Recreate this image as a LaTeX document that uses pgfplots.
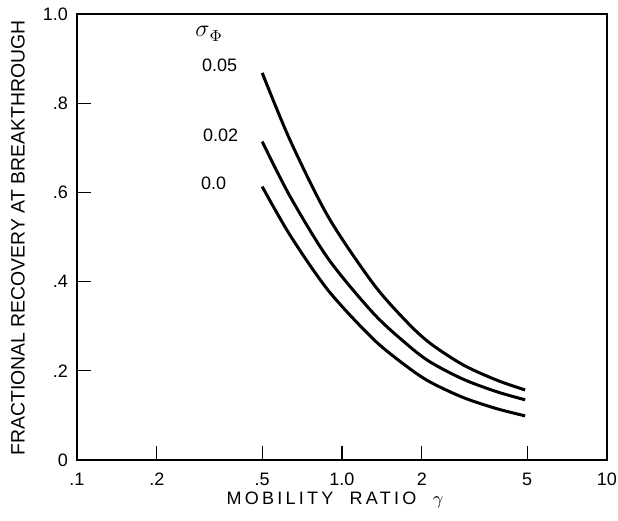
\documentclass[border=0pt]{standalone}
\usepackage{fontspec}
\setmainfont{Liberation Sans}
\usepackage{pgfplots}
\pgfplotsset{compat=1.18}
\begin{document}
\begin{tikzpicture}
\begin{axis}[
  at={(0,0)}, anchor=south west,
  scale only axis, width=265pt, height=223pt,
  xmode=log, xmin=0.1, xmax=10, ymin=0, ymax=1,
  xtick={0.1,0.2,0.5,1,2,5,10},
  xticklabels={.1,.2,.5,1.0,2,5,10},
  ytick={0,0.2,0.4,0.6,0.8,1},
  yticklabels={0,.2,.4,.6,.8,1.0},
  minor tick num=0, minor xtick={},
  xtick pos=bottom, ytick pos=left,
  tick align=inside, major tick length=7pt,
  tick style={black, line width=0.6pt},
  axis line style={line width=0.9pt},
  tick label style={font=\fontsize{9}{10}\selectfont},
  /pgf/number format/assume math mode=true,
  xticklabel style={yshift=-3pt},
  yticklabel style={xshift=-1pt},
]
% sigma_phi = 0.05
\addplot[black, line width=1.5pt, smooth] coordinates {
  (0.5,0.868) (0.637,0.717) (0.888,0.545) (1.313,0.395)
  (1.754,0.310) (2.148,0.262) (2.87,0.213) (3.84,0.179) (4.91,0.157)
};
% sigma_phi = 0.02
\addplot[black, line width=1.5pt, smooth] coordinates {
  (0.5,0.714) (0.637,0.591) (0.888,0.451) (1.313,0.329)
  (1.754,0.260) (2.148,0.220) (2.87,0.181) (3.84,0.153) (4.91,0.135)
};
% sigma_phi = 0.0
\addplot[black, line width=1.5pt, smooth] coordinates {
  (0.5,0.613) (0.637,0.504) (0.888,0.380) (1.313,0.271)
  (1.754,0.210) (2.148,0.175) (2.87,0.140) (3.84,0.115) (4.91,0.099)
};
\end{axis}
\node[anchor=west, inner sep=0pt] at (59pt,213pt) {\fontsize{13}{14}\selectfont$\sigma$\raisebox{-2.5pt}{\fontsize{8}{9}\selectfont$\Phi$}};
\node[anchor=west, font=\fontsize{9}{10}\selectfont] at (59pt,197.5pt) {0.05};
\node[anchor=west, font=\fontsize{9}{10}\selectfont] at (59.5pt,162.5pt) {0.02};
\node[anchor=west, font=\fontsize{9}{10}\selectfont] at (58.5pt,138.5pt) {0.0};
\node[font=\fontsize{9}{10}\selectfont\addfontfeature{LetterSpace=18}] at (129pt,-20pt) {MOBILITY \ RATIO \ $\gamma$};
\node[rotate=90, font=\fontsize{9.7}{10}\selectfont] at (-29.5pt,111pt) {FRACTIONAL RECOVERY AT BREAKTHROUGH};
\pgfresetboundingbox
\path (-38.5pt,-30.5pt) rectangle (270.5pt,230pt);
\end{tikzpicture}
\end{document}
